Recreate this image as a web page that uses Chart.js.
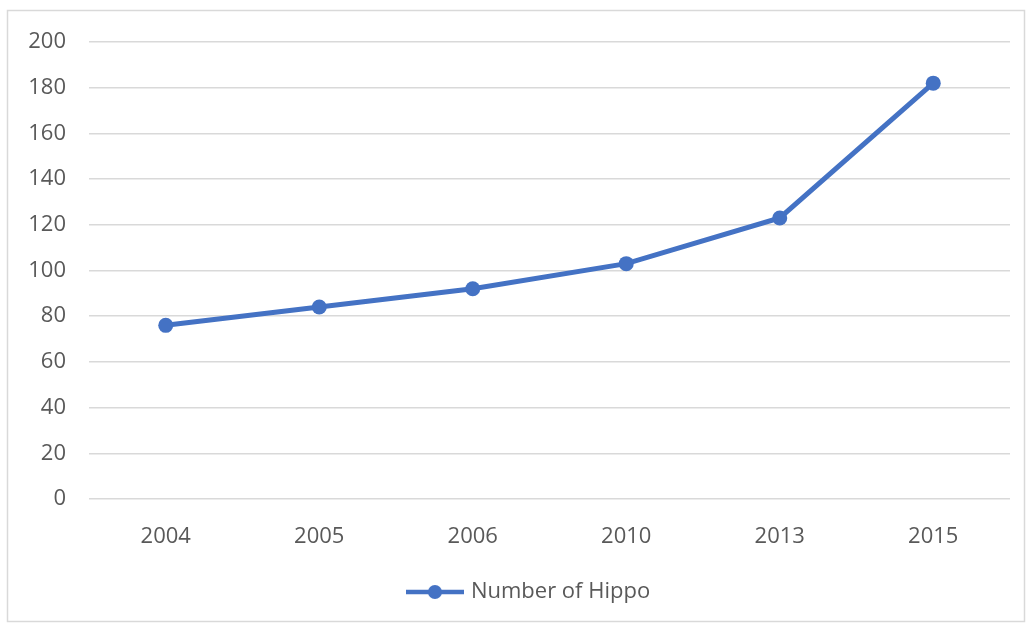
<!DOCTYPE html>
<html>
<head>
<meta charset="utf-8">
<script src="https://cdn.jsdelivr.net/npm/chart.js@4/dist/chart.umd.min.js"></script>
<style>
  html, body { margin: 0; padding: 0; background: #ffffff; }
  #wrap { position: relative; width: 1032px; height: 626px; }
</style>
</head>
<body>
<div id="wrap"><canvas id="chart" width="1032" height="626"></canvas></div>
<script>
// Hippo population by survey year
const years = ['2004', '2005', '2006', '2010', '2013', '2015'];
const hippoCounts = [76, 84, 92, 103, 123, 182];
const seriesName = 'Number of Hippo';

const lineColor = '#4472C4';
const textColor = '#595959';
const gridColor = '#d9d9d9';
const fontFamily = '"Open Sans", "Noto Sans", sans-serif';

// Legend marker: short line with a dot in the middle
const legendMark = document.createElement('canvas');
legendMark.width = 58;
legendMark.height = 16;
(function () {
  const c = legendMark.getContext('2d');
  c.strokeStyle = lineColor;
  c.lineWidth = 4.5;
  c.beginPath();
  c.moveTo(0, 8);
  c.lineTo(58, 8);
  c.stroke();
  c.fillStyle = lineColor;
  c.beginPath();
  c.arc(29, 8, 7, 0, Math.PI * 2);
  c.fill();
})();

// Thin frame around the whole chart; legend centred under the plot area
const framePlugin = {
  id: 'frame',
  beforeDraw(chart) {
    if (chart.legend) {
      chart.legend.left = 50;
    }
    const ctx = chart.ctx;
    ctx.save();
    ctx.fillStyle = '#ffffff';
    ctx.fillRect(0, 0, chart.width, chart.height);
    ctx.strokeStyle = '#d9d9d9';
    ctx.lineWidth = 1.5;
    ctx.strokeRect(7.5, 10.5, 1017, 611);
    ctx.restore();
  }
};

new Chart(document.getElementById('chart'), {
  type: 'line',
  data: {
    labels: years,
    datasets: [{
      label: seriesName,
      data: hippoCounts,
      borderColor: lineColor,
      backgroundColor: lineColor,
      borderWidth: 5,
      pointRadius: 7.5,
      pointHoverRadius: 7.5,
      pointBackgroundColor: lineColor,
      pointBorderColor: lineColor,
      pointBorderWidth: 0,
      tension: 0,
      fill: false
    }]
  },
  options: {
    responsive: false,
    animation: false,
    devicePixelRatio: 1,
    layout: { padding: { top: 42, right: 22, bottom: 13, left: 0 } },
    scales: {
      x: {
        offset: true,
        grid: { display: false, drawTicks: false },
        border: { display: false },
        ticks: { color: textColor, font: { family: fontFamily, size: 22 }, padding: 25, maxRotation: 0 },
        afterFit(scale) { scale.height = 72; }
      },
      y: {
        min: 0,
        max: 200,
        grid: { color: gridColor, lineWidth: 1.5, drawTicks: false },
        border: { display: false },
        ticks: { stepSize: 20, color: textColor, font: { family: fontFamily, size: 22 }, padding: 23 },
        afterFit(scale) { scale.width = 89; }
      }
    },
    plugins: {
      legend: {
        display: true,
        position: 'bottom',
        labels: {
          usePointStyle: true,
          pointStyle: legendMark,
          pointStyleWidth: 50,
          padding: 10,
          color: textColor,
          font: { family: fontFamily, size: 22 }
        }
      },
      tooltip: { enabled: false }
    }
  },
  plugins: [framePlugin]
});
</script>
</body>
</html>
